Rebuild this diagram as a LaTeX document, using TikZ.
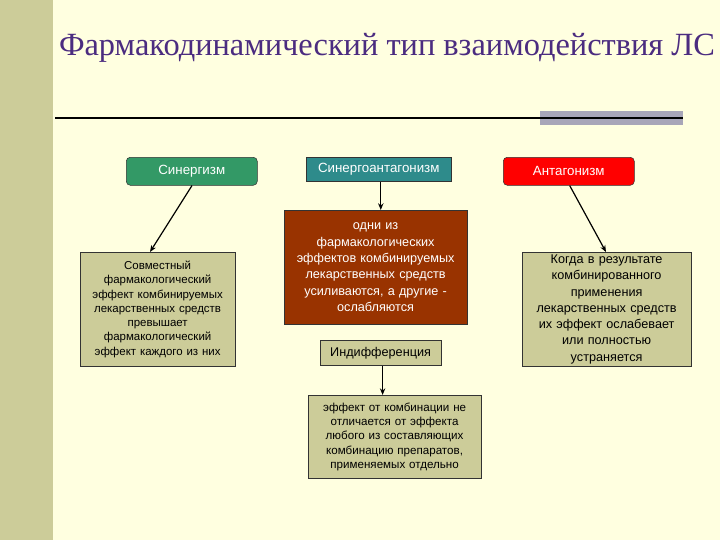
\documentclass[tikz,border=0pt]{standalone}
\usepackage{fontspec}
\setmainfont{Liberation Serif}
\setsansfont{Liberation Sans}
\usetikzlibrary{arrows.meta}
\definecolor{fdBg}{HTML}{FFFFE0}
\definecolor{fdStrip}{HTML}{CCCC99}
\definecolor{fdTitle}{HTML}{4B2C80}
\definecolor{fdGreen}{HTML}{339966}
\definecolor{fdTeal}{HTML}{2E8B8B}
\definecolor{fdRed}{HTML}{FF0000}
\definecolor{fdBrown}{HTML}{993300}
\definecolor{fdOlive}{HTML}{CCCC99}
\definecolor{fdBar}{HTML}{A8A6B8}
\begin{document}
\begin{tikzpicture}[x=0.75pt,y=-0.75pt,
    head/.style={draw=black!80, text=white, font=\sffamily\fontsize{10}{11}\selectfont,
                 inner sep=0pt, anchor=north west},
    desc/.style={draw=black!80, fill=fdOlive, align=center, inner sep=1pt,
                 anchor=north west},
    link/.style={-{Stealth[length=5pt,width=4pt]}, line width=0.9pt}]
    % background and frame
    \fill[fdBg] (0,0) rectangle (720,540);
    \fill[fdStrip] (0,0) rectangle (53,540);
    \useasboundingbox (0,0) rectangle (720,540);
    \node[text=fdTitle, font=\fontsize{24.3}{26}\selectfont] (title) at (387,48)
        {Фармакодинамический тип взаимодействия ЛС};
    \fill[fdBar] (540,111) rectangle (683,125);
    \draw[line width=2.2pt] (55,118) -- (683,118);
    % top row
    \node[head, fill=fdGreen, rounded corners=3pt, minimum width=131*0.75pt,
          minimum height=28*0.75pt] (syn) at (126,157) {Синергизм};
    \node[head, fill=fdTeal, minimum width=145*0.75pt,
          minimum height=24*0.75pt] (synant) at (306,157) {Синергоантагонизм};
    \node[head, fill=fdRed, rounded corners=3pt, minimum width=131*0.75pt,
          minimum height=28*0.75pt] (ant) at (503,157) {Антагонизм};
    % descriptions
    \node[desc, text width=152*0.75pt, minimum height=114*0.75pt,
          font=\sffamily\fontsize{8.6}{10.7}\selectfont] (synd) at (80,252)
        {Совместный\\фармакологический\\эффект комбинируемых\\лекарственных средств\\превышает\\фармакологический\\эффект каждого из них};
    \node[desc, fill=fdBrown, text=white, text width=180*0.75pt, minimum height=114*0.75pt,
          font=\sffamily\fontsize{9.5}{12.3}\selectfont] (synantd) at (284,210)
        {одни из\\фармакологических\\эффектов комбинируемых\\лекарственных средств\\усиливаются, а другие -\\ослабляются\\[10pt]};
    \node[desc, text width=166*0.75pt, minimum height=114*0.75pt,
          font=\sffamily\fontsize{9.5}{12.2}\selectfont] (antd) at (522,252)
        {Когда в результате\\комбинированного\\применения\\лекарственных средств\\их эффект ослабевает\\или полностью\\устраняется};
    \node[desc, text width=118*0.75pt, minimum height=25*0.75pt,
          font=\sffamily\fontsize{9.5}{11}\selectfont] (indif) at (320,340) {Индифференция};
    \node[desc, text width=170*0.75pt, minimum height=83*0.75pt,
          font=\sffamily\fontsize{8.7}{10.8}\selectfont] (indifd) at (308,395)
        {эффект от комбинации не\\отличается от эффекта\\любого из составляющих\\комбинацию препаратов,\\применяемых отдельно};
    % connectors
    \draw[link] ([xshift=49.5pt]syn.south west) -- ([xshift=52.5pt]synd.north west);
    \draw[link] ([xshift=1.5pt]synant.south) -- ([xshift=1.5pt]synantd.north -| synant.south);
    \draw[link] ([xshift=1.5pt]indif.south) -- ([xshift=1.5pt]indifd.north -| indif.south);
    \draw[link] ([xshift=50pt]ant.south west) -- ([xshift=63pt]antd.north west);
\end{tikzpicture}
\end{document}
